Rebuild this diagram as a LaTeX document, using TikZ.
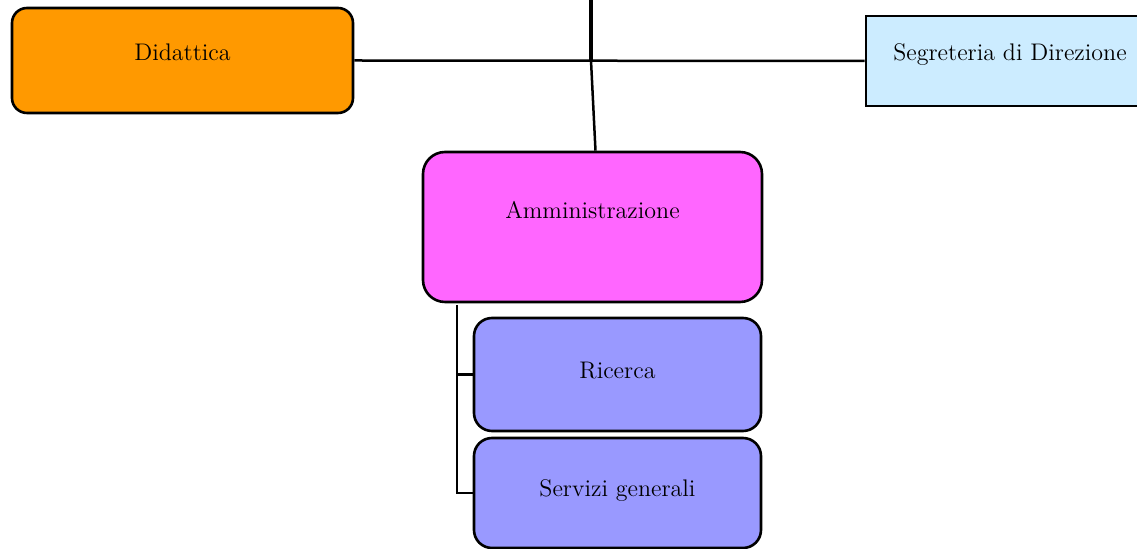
\documentclass[tikz,border=0pt]{standalone}
\usepackage{tikz}
\usetikzlibrary{positioning}
\usepackage{xcolor}
\definecolor{arancio}{HTML}{FF9900}
\definecolor{azzurro}{HTML}{CCECFF}
\definecolor{magenta}{HTML}{FF66FF}
\definecolor{lilla}{HTML}{9999FF}

\begin{document}
\begin{tikzpicture}[x=0.5pt,y=-0.5pt,
		ufficio/.style={draw=black, line width=1.3pt, text height=2ex, text depth=2ex,
			font=\fontsize{12}{14}\selectfont},
		linea/.style={line width=1.25pt}]
		\clip (0,0) rectangle (1137,549);
		% riquadri
		\node[ufficio, fill=arancio, rounded corners=7.5pt, minimum width=170.5pt, minimum height=52.5pt]
			(didattica) at (182.5,60.5) {Didattica};
		\node[ufficio, fill=azzurro, minimum width=144pt, minimum height=45pt]
			(segreteria) at (1010,61) {Segreteria di Direzione};
		\node[ufficio, fill=magenta, rounded corners=11pt, minimum width=169.5pt, minimum height=75pt,
			text depth=2ex+8pt] (amministrazione) at (592.5,227) {Amministrazione};
		\node[ufficio, fill=lilla, rounded corners=9pt, minimum width=143.5pt, minimum height=56.5pt,
			text height=2ex+4.5pt] (ricerca) at (617.5,374.5) {Ricerca};
		\node[ufficio, fill=lilla, rounded corners=9pt, minimum width=143.5pt, minimum height=55pt,
			text height=2ex+4pt] (servizi) at (617.5,493) {Servizi generali};
		% collegamenti
		\coordinate (vertice) at (591,0);
		\coordinate (snodo) at (591,60.5);
		\coordinate (ramo) at (457,305);
		\draw[line width=1.75pt] (vertice) -- (snodo);
		\draw[linea] (didattica.east) -- (segreteria.west);
		\draw[linea] (snodo) -- ([xshift=1.5]amministrazione.north);
		\draw[linea] (ramo) |- (servizi.west);
		\draw[linea] (ramo |- ricerca.west) -- (ricerca.west);
	\end{tikzpicture}
\end{document}
